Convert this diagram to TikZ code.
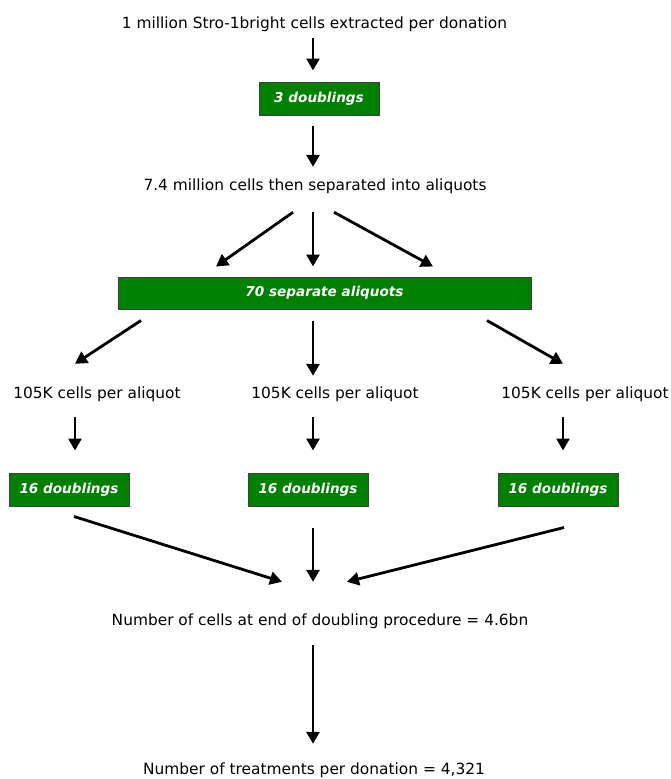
\documentclass[tikz,border=0pt]{standalone}
\usepackage{fontspec}
\setmainfont{DejaVu Sans}
\usetikzlibrary{arrows.meta}

\begin{document}
\begin{tikzpicture}[
  x=1pt,y=-1pt,
  txt/.style={inner sep=0pt,text height=11pt,text depth=3pt,font=\fontsize{15.4}{18}\selectfont},
  gbox/.style={draw=black!75,line width=1pt,fill=green!50!black,text=white,inner sep=0pt,
    minimum height=33pt,font=\fontsize{13.6}{16}\selectfont\bfseries\itshape},
  arr/.style={line width=2.8pt,-{Triangle[length=12pt,width=13pt]}}
]
  \useasboundingbox (0,0) rectangle (670,779);
  % stages
  \node[txt] (src)   at (314.5,24.5) {1 million Stro-1bright cells extracted per donation};
  \node[gbox,minimum width=120pt] (dbl3) at (319,98.5) {3 doublings};
  \node[txt] (cells) at (315,186.5) {7.4 million cells then separated into aliquots};
  \node[gbox,minimum width=413pt,minimum height=32pt] (aliq) at (324.5,293) {70 separate aliquots};
  \node[txt] (perA)  at (97,394.5)  {105K cells per aliquot};
  \node[txt] (perB)  at (335,394.5) {105K cells per aliquot};
  \node[txt] (perC)  at (585,394.5) {105K cells per aliquot};
  \node[gbox,minimum width=120pt] (dblA) at (69,489.5)  {16 doublings};
  \node[gbox,minimum width=120pt] (dblB) at (308,489.5) {16 doublings};
  \node[gbox,minimum width=120pt] (dblC) at (558,489.5) {16 doublings};
  \node[txt] (total) at (320,621.5) {Number of cells at end of doubling procedure = 4.6bn};
  \node[txt] (treat) at (314,770) {Number of treatments per donation = 4,321};

  % arrows
  \draw[arr] ([shift={(-1.5,6.5)}]src.south) -- ([shift={(-6,-11)}]dbl3.north);
  \draw[arr] ([shift={(-6,10)}]dbl3.south) -- ([shift={(-2,-12.5)}]cells.north);
  \draw[arr] ([shift={(-22,18.5)}]cells.south) -- ([shift={(-108.5,-10)}]aliq.north);
  \draw[arr] ([shift={(-2,18.5)}]cells.south)  -- ([shift={(-11.5,-10)}]aliq.north);
  \draw[arr] ([shift={(19,18.5)}]cells.south)  -- ([shift={(108.5,-10)}]aliq.north);
  \draw[arr] ([shift={(-183.5,11)}]aliq.south) -- ([shift={(-22,-23.5)}]perA.north);
  \draw[arr] ([shift={(-11.5,11)}]aliq.south)  -- ([shift={(-22,-11.5)}]perB.north);
  \draw[arr] ([shift={(162.5,11)}]aliq.south)  -- ([shift={(-22,-23.5)}]perC.north);
  \draw[arr] ([shift={(-22,15.5)}]perA.south) -- ([shift={(6,-22)}]dblA.north);
  \draw[arr] ([shift={(-22,15.5)}]perB.south) -- ([shift={(5,-22)}]dblB.north);
  \draw[arr] ([shift={(-22,15.5)}]perC.south) -- ([shift={(5,-22)}]dblC.north);
  \draw[arr] ([shift={(5,10)}]dblA.south) -- ([shift={(-38,-32.5)}]total.north);
  \draw[arr] ([shift={(5,21)}]dblB.south) -- ([shift={(-7,-32.5)}]total.north);
  \draw[arr] ([shift={(6,21)}]dblC.south) -- ([shift={(27,-32.5)}]total.north);
  \draw[arr] ([shift={(-7,16.5)}]total.south) -- ([shift={(-1,-19)}]treat.north);
\end{tikzpicture}
\end{document}
